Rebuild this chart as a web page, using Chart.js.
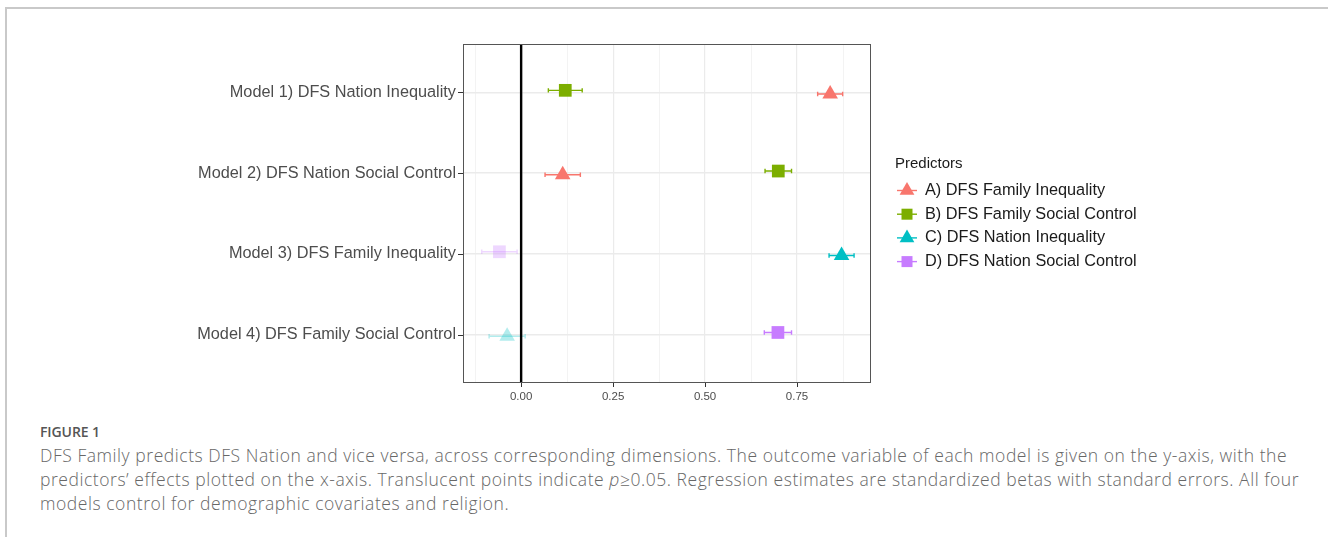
<!DOCTYPE html>
<html>
<head>
<meta charset="utf-8">
<script src="https://cdn.jsdelivr.net/npm/chart.js@4.4.0/dist/chart.umd.min.js"></script>
<style>
html, body { margin: 0; padding: 0; background: #fff; }
body { width: 1328px; height: 537px; position: relative; overflow: hidden; }
#frame { position: absolute; left: 5px; top: 7px; width: 1340px; height: 540px; border-top: 2px solid #c9c9c9; border-left: 2px solid #c9c9c9; }
#plot { position: absolute; left: 0; top: 0; }
#caption { position: absolute; left: 40px; top: 423px; font-family: "Open Sans", Lato, sans-serif; color: #676767; white-space: nowrap; }
#caption .fig { font-size: 14px; line-height: 17px; font-weight: 600; letter-spacing: -0.1px; color: #555; margin-bottom: 3px; }
#caption .txt { font-size: 17.5px; line-height: 24px; font-weight: 300; letter-spacing: 0.55px; }
</style>
</head>
<body>
<div id="frame"></div>
<canvas id="plot" width="1328" height="420"></canvas>
<div id="caption">
  <div class="fig">FIGURE 1</div>
  <div class="txt">DFS Family predicts DFS Nation and vice versa, across corresponding dimensions. The outcome variable of each model is given on the y-axis, with the<br>predictors’ effects plotted on the x-axis. Translucent points indicate <i>p</i>≥0.05. Regression estimates are standardized betas with standard errors. All four<br>models control for demographic covariates and religion.</div>
</div>
<script>
// modelos (eixo y) e preditores (legenda)
const models = [
    'Model 1) DFS Nation Inequality',
    'Model 2) DFS Nation Social Control',
    'Model 3) DFS Family Inequality',
    'Model 4) DFS Family Social Control'
];
const predictors = [
    'A) DFS Family Inequality',
    'B) DFS Family Social Control',
    'C) DFS Nation Inequality',
    'D) DFS Nation Social Control'
];
const predictorColors = ['#F8766D', '#7CAE00', '#00BFC4', '#C77CFF'];
const predictorShapes = ['triangle', 'rect', 'triangle', 'rect'];

// estimativas por modelo (null = preditor fora do modelo)
const estA = [0.840, 0.113, null, null];
const estB = [0.120, 0.699, null, null];
const estC = [null, null, 0.871, -0.038];
const estD = [null, null, -0.059, 0.698];

// erros padrão
const seA = [0.034, 0.048, null, null];
const seB = [0.046, 0.036, null, null];
const seC = [null, null, 0.034, 0.049];
const seD = [null, null, 0.048, 0.037];

// significativo (p < 0.05)
const sigA = [true, true, null, null];
const sigB = [true, true, null, null];
const sigC = [null, null, true, false];
const sigD = [null, null, false, true];

const xTicks = [-0.125, 0, 0.125, 0.25, 0.375, 0.5, 0.625, 0.75, 0.875];
const xMajor = [0, 0.25, 0.5, 0.75];

const estimates = [estA, estB, estC, estD];
const stdErrors = [seA, seB, seC, seD];
const signif = [sigA, sigB, sigC, sigD];

const FONT = '"Liberation Sans", Arial, sans-serif';

function fade(hex, a) {
    const n = parseInt(hex.slice(1), 16);
    return 'rgba(' + (n >> 16) + ',' + ((n >> 8) & 255) + ',' + (n & 255) + ',' + a + ')';
}

// deslocamento vertical (position_dodge)
const dodge = { triangle: 0.02, rect: -0.026 };

const datasets = predictors.map((name, i) => {
    const data = [];
    estimates[i].forEach((v, j) => {
        if (v === null) return;
        data.push({ x: v, y: j + 1 + dodge[predictorShapes[i]], se: stdErrors[i][j], sig: signif[i][j] });
    });
    return {
        label: name,
        data: data,
        pointStyle: predictorShapes[i],
        pointRadius: 9,
        pointHoverRadius: 9,
        borderWidth: 0,
        backgroundColor: (ctx) => (ctx.raw && !ctx.raw.sig) ? fade(predictorColors[i], 0.3) : predictorColors[i],
        baseColor: predictorColors[i]
    };
});

const errorBars = {
    id: 'errorBars',
    beforeDatasetsDraw(chart) {
        const { ctx, chartArea, scales: { x, y } } = chart;
        ctx.save();
        ctx.lineWidth = 1.4;
        chart.data.datasets.forEach((ds) => {
            ds.data.forEach((p) => {
                const py = y.getPixelForValue(p.y);
                const x0 = x.getPixelForValue(p.x - p.se);
                const x1 = x.getPixelForValue(p.x + p.se);
                ctx.strokeStyle = p.sig ? ds.baseColor : fade(ds.baseColor, 0.3);
                ctx.beginPath();
                ctx.moveTo(x0, py); ctx.lineTo(x1, py);
                ctx.moveTo(x0, py - 2.2); ctx.lineTo(x0, py + 2.2);
                ctx.moveTo(x1, py - 2.2); ctx.lineTo(x1, py + 2.2);
                ctx.stroke();
            });
        });
        // linha vertical em zero
        const zx = x.getPixelForValue(0);
        ctx.strokeStyle = '#000';
        ctx.lineWidth = 2.4;
        ctx.beginPath();
        ctx.moveTo(zx, chartArea.top);
        ctx.lineTo(zx, chartArea.bottom);
        ctx.stroke();
        ctx.restore();
    }
};

const panelAndLegend = {
    id: 'panelAndLegend',
    afterDraw(chart) {
        const { ctx, chartArea: a, scales: { x, y } } = chart;
        ctx.save();
        ctx.strokeStyle = '#555';
        ctx.lineWidth = 1;
        ctx.strokeRect(a.left + 0.5, a.top + 0.5, a.right - a.left - 1, a.bottom - a.top - 1);
        ctx.strokeStyle = '#333';
        ctx.beginPath();
        models.forEach((m, j) => {
            const py = Math.round(y.getPixelForValue(j + 1)) + 0.5;
            ctx.moveTo(a.left - 5, py); ctx.lineTo(a.left, py);
        });
        xMajor.forEach((v) => {
            const px = Math.round(x.getPixelForValue(v)) + 0.5;
            ctx.moveTo(px, a.bottom); ctx.lineTo(px, a.bottom + 4);
        });
        ctx.stroke();

        // legenda
        ctx.textBaseline = 'middle';
        ctx.textAlign = 'left';
        ctx.fillStyle = '#1a1a1a';
        ctx.font = '15px ' + FONT;
        ctx.fillText('Predictors', 895, 164);
        ctx.font = '16.3px ' + FONT;
        predictors.forEach((name, i) => {
            const cy = 190.5 + i * 23.7;
            const kx = 907;
            ctx.strokeStyle = predictorColors[i];
            ctx.lineWidth = 1.4;
            ctx.beginPath();
            ctx.moveTo(kx - 10, cy); ctx.lineTo(kx + 10, cy);
            ctx.stroke();
            ctx.fillStyle = predictorColors[i];
            ctx.beginPath();
            if (predictorShapes[i] === 'triangle') {
                const r = 8.5;
                ctx.moveTo(kx, cy - r);
                ctx.lineTo(kx + r * 0.866, cy + r / 2);
                ctx.lineTo(kx - r * 0.866, cy + r / 2);
                ctx.closePath();
            } else {
                ctx.rect(kx - 5.5, cy - 5.5, 11, 11);
            }
            ctx.fill();
            ctx.fillStyle = '#1a1a1a';
            ctx.fillText(name, 925, cy);
        });
        ctx.restore();
    }
};

new Chart(document.getElementById('plot').getContext('2d'), {
    type: 'scatter',
    data: { datasets: datasets },
    options: {
        responsive: false,
        animation: false,
        events: [],
        layout: { padding: { left: 0, right: 457, top: 44, bottom: 7 } },
        plugins: { legend: { display: false }, tooltip: { enabled: false } },
        scales: {
            x: {
                type: 'linear',
                min: -0.158,
                max: 0.951,
                afterBuildTicks: (s) => { s.ticks = xTicks.map(v => ({ value: v })); },
                afterFit: (s) => { s.height = 30; },
                grid: {
                    color: '#EBEBEB',
                    lineWidth: (c) => (c.tick && xMajor.includes(c.tick.value)) ? 1.2 : 0.6,
                    drawTicks: false
                },
                border: { display: false },
                ticks: {
                    autoSkip: false,
                    maxRotation: 0,
                    padding: 7,
                    color: '#4d4d4d',
                    font: { family: FONT, size: 11.5 },
                    callback: (v) => xMajor.includes(v) ? v.toFixed(2) : ''
                }
            },
            y: {
                type: 'linear',
                reverse: true,
                min: 0.4,
                max: 4.6,
                afterBuildTicks: (s) => { s.ticks = models.map((m, j) => ({ value: j + 1 })); },
                afterFit: (s) => { s.width = 463; },
                grid: { color: '#EBEBEB', lineWidth: 1.5, drawTicks: false },
                border: { display: false },
                ticks: {
                    autoSkip: false,
                    padding: 7,
                    color: '#4d4d4d',
                    font: { family: FONT, size: 16.3 },
                    callback: (v) => models[v - 1]
                }
            }
        }
    },
    plugins: [errorBars, panelAndLegend]
});
</script>
</body>
</html>
